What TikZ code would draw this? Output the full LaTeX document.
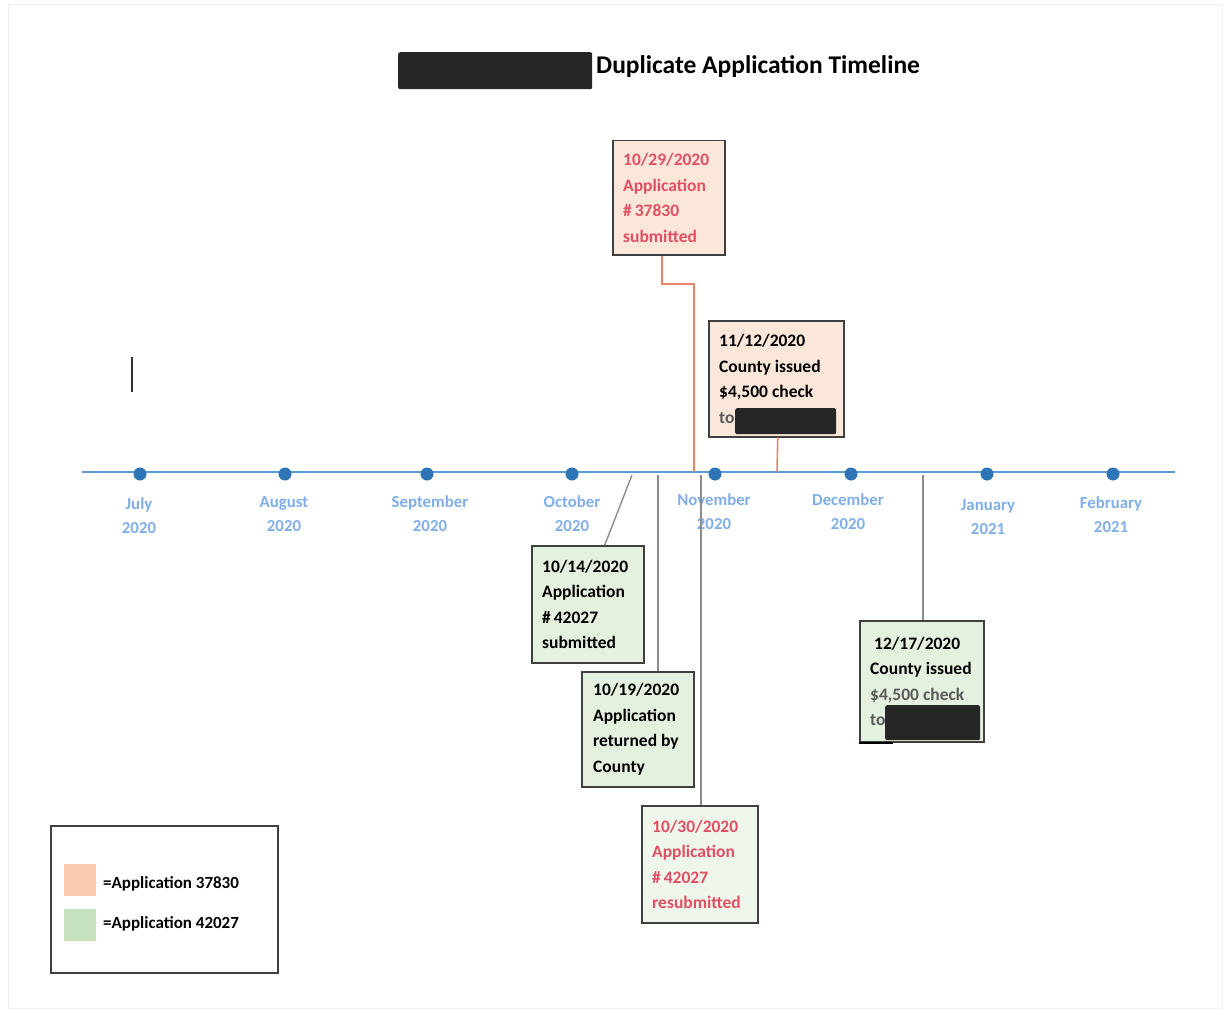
\documentclass[tikz,border=0pt]{standalone}
\usepackage{fontspec}
\setmainfont{Carlito}
\definecolor{peach}{RGB}{251,231,217}
\definecolor{mint}{RGB}{229,241,223}
\definecolor{redtxt}{RGB}{226,78,98}
\definecolor{oline}{RGB}{233,132,108}
\definecolor{gline}{RGB}{140,140,140}
\definecolor{bord}{RGB}{64,64,64}
\definecolor{tblue}{RGB}{91,155,213}
\definecolor{dblue}{RGB}{46,117,182}
\definecolor{mblue}{RGB}{128,174,230}
\definecolor{swor}{RGB}{249,203,172}
\definecolor{swgr}{RGB}{197,226,188}
\definecolor{redact}{RGB}{38,38,38}
\tikzset{
  evbox/.style={draw=bord, line width=1.5pt, anchor=north west, inner sep=0pt},
  evtxt/.style={anchor=west, align=left, inner sep=0pt, font=\bfseries\fontsize{17.5}{25.5}\selectfont},
  mlabel/.style={align=center, inner sep=0pt, text=mblue, font=\bfseries\fontsize{16.8}{24}\selectfont},
  mdot/.style={circle, fill=dblue, minimum size=13pt, inner sep=0pt},
  orline/.style={draw=oline, line width=1.6pt},
  grline/.style={draw=gline, line width=1.4pt},
  redbox/.style={fill=redact, rounded corners=2pt, inner sep=0pt, anchor=north west},
  leg/.style={anchor=west, inner sep=0pt, font=\bfseries\fontsize{17}{20}\selectfont},
}
\begin{document}
\begin{tikzpicture}[x=1pt,y=-1pt]
\useasboundingbox (0,0) rectangle (1225,1011);
\draw[black!6, line width=1pt] (8,5) rectangle (1222,1008);

% title
\node[redbox, minimum width=194pt, minimum height=37pt] (tred) at (398,52) {};
\node[anchor=base west, inner sep=0pt, font=\bfseries\fontsize{25.5}{30}\selectfont] (title) at (596,74) {Duplicate Application Timeline};

% stray mark
\draw[black!80, line width=2pt] (132,357) -- (132,392);

% timeline
\coordinate (tl0) at (82,472);
\coordinate (tl1) at (1175,472);
\draw[tblue, line width=2.8pt] (tl0) -- (tl1);
\foreach \n/\x in {d1/140,d2/285,d3/427,d4/572,d5/715,d6/851,d7/987,d8/1113}
  \node[mdot] (\n) at (\x,474) {};

% month labels
\node[mlabel] (m1) at (139,516) {July\\2020};
\node[mlabel] (m2) at (284,514) {August\\2020};
\node[mlabel] (m3) at (430,513.5) {September\\2020};
\node[mlabel] (m4) at (572,514) {October\\2020};
\node[mlabel] (m5) at (714,512) {November\\2020};
\node[mlabel] (m6) at (848,512) {December\\2020};
\node[mlabel] (m7) at (988,517) {January\\2021};
\node[mlabel] (m8) at (1111,515) {February\\2021};

% timeline anchor points
\coordinate (t1) at (694,472);
\coordinate (k1) at (694,284);
\coordinate (t2) at (777,472);
\coordinate (t3) at (632,475);
\coordinate (t4) at (658,475);
\coordinate (t5) at (701,475);
\coordinate (t6) at (923,475);

% boxes
\node[evbox, fill=peach, minimum width=112pt, minimum height=114pt] (b1) at (612,140) {};
\node[evtxt, text=redtxt] (b1t) at ([xshift=11pt]b1.west) {10/29/2020\\Application\\\#\,37830\\submitted};

\node[evbox, fill=peach, minimum width=135pt, minimum height=116pt] (b2) at (708,320) {};
\node[evtxt] (b2t) at ([xshift=11pt]b2.west) {11/12/2020\\County issued\\\$4,500 check\\{\color{black!65}to}};
\node[redbox, minimum width=101pt, minimum height=26pt] (r2) at (735,408) {};

\node[evbox, fill=mint, minimum width=112pt, minimum height=117pt] (b3) at (531,545) {};
\node[evtxt] (b3t) at ([xshift=11pt]b3.west) {10/14/2020\\Application\\\#\,42027\\submitted};

\node[evbox, fill=mint, minimum width=112pt, minimum height=115pt] (b4) at (581,671) {};
\node[evtxt] (b4t) at ([xshift=12pt]b4.west) {10/19/2020\\Application\\returned by\\County};

\node[evbox, fill=mint!60, minimum width=116pt, minimum height=117pt] (b5) at (641,805) {};
\node[evtxt, text=redtxt] (b5t) at ([xshift=11pt]b5.west) {10/30/2020\\Application\\\#\,42027\\resubmitted};

\node[evbox, fill=mint, minimum width=124pt, minimum height=121pt] (b6) at (859,620) {};
\node[evtxt] (b6t) at ([xshift=11pt]b6.west) {\hspace*{4pt}12/17/2020\\County issued\\{\color{black!65}\$4,500 check}\\{\color{black!65}to}};
\node[redbox, minimum width=95pt, minimum height=35pt] (r6) at (885,705) {};
\draw[black, line width=2pt] (b6.south west) -- ++(34,0);

% connectors
\draw[orline] ([xshift=-7pt]b1.south) |- (k1) -- (t1);
\draw[orline] ([xshift=1.5pt]b2.south) -- (t2);
\draw[grline] ([xshift=17pt]b3.north) -- (t3);
\draw[grline] (t4) -- (t4 |- b4.north);
\draw[grline] (t5) -- (t5 |- b5.north);
\draw[grline] (t6) -- (t6 |- b6.north);

% legend
\node[draw=bord, line width=1.5pt, anchor=north west, minimum width=227pt, minimum height=147pt, inner sep=0pt] (legend) at (50,825) {};
\node[fill=swor, anchor=north west, minimum size=32pt, inner sep=0pt] (s1) at (64,864) {};
\node[fill=swgr, anchor=north west, minimum size=32pt, inner sep=0pt] (s2) at (64,909) {};
\node[leg] (l1) at (103,884) {=Application 37830};
\node[leg] (l2) at (103,924) {=Application 42027};
\end{tikzpicture}
\end{document}
